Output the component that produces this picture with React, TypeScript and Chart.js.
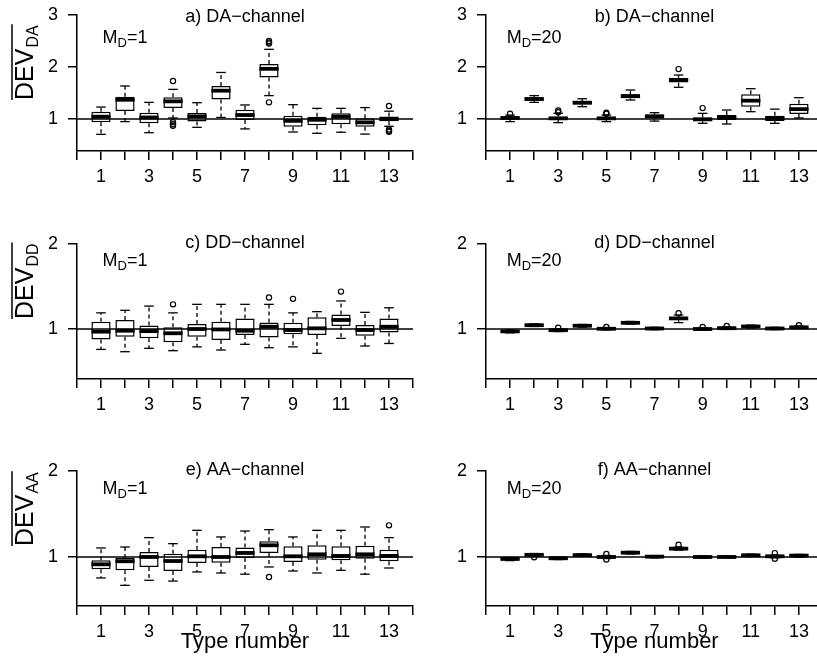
import React, { useEffect, useRef } from "react";
import { Chart, registerables } from "chart.js";

Chart.register(...registerables);

const FONT = "'Liberation Sans', Arial, Helvetica, sans-serif";

const typeNumbers = [1, 2, 3, 4, 5, 6, 7, 8, 9, 10, 11, 12, 13];
const xTickValues = [0, 1, 2, 3, 4, 5, 6, 7, 8, 9, 10, 11, 12, 13, 14];
const xTickLabels = [1, 3, 5, 7, 9, 11, 13];
const yTicksTop = [1, 2, 3];
const yTicksLower = [1, 2];

// a) DA-channel, M_D = 1
const daM1Low = [0.705, 0.95, 0.737, 1.02, 0.84, 1.03, 0.81, 1.45, 0.75, 0.725, 0.745, 0.71, 0.86];
const daM1Q1 = [0.936, 1.155, 0.917, 1.21, 0.95, 1.375, 0.98, 1.8, 0.853, 0.878, 0.9, 0.853, 0.955];
const daM1Med = [1.045, 1.37, 1.03, 1.34, 1.05, 1.545, 1.077, 1.965, 0.965, 0.985, 1.045, 0.936, 1.0];
const daM1Q3 = [1.14, 1.43, 1.12, 1.417, 1.115, 1.635, 1.18, 2.06, 1.064, 1.045, 1.11, 1.013, 1.05];
const daM1High = [1.23, 1.635, 1.32, 1.57, 1.314, 1.895, 1.27, 2.34, 1.276, 1.205, 1.205, 1.22, 1.15];
const daM1Out = [[4, 1.73], [4, 0.94], [4, 0.9], [4, 0.87], [8, 2.5], [8, 2.47], [8, 2.45], [8, 1.32], [13, 1.25], [13, 0.8], [13, 0.775], [13, 0.755]];

// b) DA-channel, M_D = 20
const daM20Low = [0.95, 1.32, 0.93, 1.237, 0.95, 1.365, 0.96, 1.61, 0.917, 0.904, 1.141, 0.917, 1.02];
const daM20Q1 = [0.99, 1.35, 0.985, 1.28, 0.99, 1.4, 1.01, 1.7, 0.955, 0.98, 1.237, 0.96, 1.096];
const daM20Med = [1.02, 1.385, 1.013, 1.314, 1.013, 1.44, 1.051, 1.75, 0.994, 1.032, 1.353, 1.013, 1.19];
const daM20Q3 = [1.045, 1.417, 1.045, 1.345, 1.04, 1.474, 1.085, 1.795, 1.03, 1.075, 1.474, 1.065, 1.295];
const daM20High = [1.075, 1.45, 1.11, 1.39, 1.077, 1.558, 1.122, 1.846, 1.109, 1.173, 1.583, 1.19, 1.41];
const daM20Out = [[1, 1.1], [3, 1.165], [3, 1.13], [5, 1.12], [5, 1.1], [8, 1.96], [9, 1.21]];

// c) DD-channel, M_D = 1
const ddM1Low = [0.76, 0.733, 0.773, 0.745, 0.79, 0.753, 0.82, 0.78, 0.79, 0.714, 0.89, 0.8, 0.83];
const ddM1Q1 = [0.878, 0.91, 0.89, 0.843, 0.91, 0.87, 0.93, 0.9, 0.937, 0.93, 1.035, 0.92, 0.96];
const ddM1Med = [0.969, 0.98, 0.975, 0.95, 1.0, 0.995, 0.98, 1.027, 0.988, 1.008, 1.106, 0.988, 1.027];
const ddM1Q3 = [1.086, 1.106, 1.04, 1.02, 1.059, 1.086, 1.125, 1.078, 1.075, 1.137, 1.17, 1.047, 1.125];
const ddM1High = [1.19, 1.22, 1.27, 1.19, 1.29, 1.29, 1.29, 1.29, 1.19, 1.204, 1.33, 1.196, 1.25];
const ddM1Out = [[4, 1.29], [8, 1.37], [9, 1.355], [11, 1.44]];

// d) DD-channel, M_D = 20
const ddM20Low = [0.955, 1.03, 0.97, 1.022, 0.99, 1.058, 0.992, 1.075, 0.985, 0.995, 1.012, 0.993, 1.005];
const ddM20Q1 = [0.962, 1.037, 0.978, 1.03, 0.996, 1.065, 0.999, 1.105, 0.993, 1.003, 1.022, 1.0, 1.013];
const ddM20Med = [0.972, 1.045, 0.986, 1.038, 1.003, 1.073, 1.006, 1.125, 1.0, 1.01, 1.03, 1.006, 1.02];
const ddM20Q3 = [0.982, 1.053, 0.994, 1.046, 1.01, 1.081, 1.013, 1.14, 1.007, 1.018, 1.038, 1.013, 1.028];
const ddM20High = [0.99, 1.06, 1.003, 1.054, 1.017, 1.089, 1.02, 1.165, 1.015, 1.026, 1.046, 1.02, 1.036];
const ddM20Out = [[3, 1.015], [5, 1.025], [8, 1.185], [9, 1.025], [10, 1.035], [13, 1.045]];

// e) AA-channel, M_D = 1
const aaM1Low = [0.756, 0.67, 0.729, 0.72, 0.826, 0.814, 0.8, 0.884, 0.837, 0.814, 0.845, 0.8, 0.872];
const aaM1Q1 = [0.857, 0.845, 0.884, 0.837, 0.93, 0.934, 0.988, 1.047, 0.942, 0.969, 0.961, 0.98, 0.95];
const aaM1Med = [0.915, 0.95, 1.0, 0.953, 1.008, 1.0, 1.047, 1.136, 1.008, 1.031, 1.012, 1.031, 1.012];
const aaM1Q3 = [0.961, 0.988, 1.058, 1.039, 1.085, 1.116, 1.109, 1.182, 1.124, 1.136, 1.124, 1.132, 1.085];
const aaM1High = [1.105, 1.116, 1.225, 1.155, 1.31, 1.233, 1.302, 1.318, 1.233, 1.31, 1.31, 1.349, 1.225];
const aaM1Out = [[8, 0.767], [13, 1.368]];

// f) AA-channel, M_D = 20
const aaM20Low = [0.958, 1.01, 0.97, 1.008, 0.982, 1.035, 0.99, 1.08, 0.988, 0.99, 1.005, 0.99, 1.0];
const aaM20Q1 = [0.967, 1.017, 0.977, 1.015, 0.992, 1.042, 0.997, 1.088, 0.994, 0.994, 1.012, 1.0, 1.008];
const aaM20Med = [0.977, 1.025, 0.985, 1.022, 1.0, 1.05, 1.004, 1.097, 1.0, 1.0, 1.02, 1.008, 1.016];
const aaM20Q3 = [0.987, 1.033, 0.992, 1.029, 1.008, 1.057, 1.01, 1.105, 1.006, 1.006, 1.027, 1.015, 1.022];
const aaM20High = [0.995, 1.04, 0.998, 1.035, 1.018, 1.065, 1.016, 1.115, 1.012, 1.012, 1.033, 1.022, 1.03];
const aaM20Out = [[2, 0.997], [5, 1.035], [5, 0.97], [8, 1.143], [12, 1.045], [12, 0.98]];

type PanelCfg = {
  key: string;
  title: string;
  md: string;
  ylabSub: string | null;
  low: number[];
  q1: number[];
  med: number[];
  q3: number[];
  high: number[];
  out: number[][];
  yMin: number;
  yMax: number;
  yTicks: number[];
  left: number;
  top: number;
  width: number;
  height: number;
  padTop: number;
  padRight: number;
  xAxisH: number;
  titleDy: number;
  mdY: number;
  ylabDy: number;
  xTitle: boolean;
};

const panels: PanelCfg[] = [
  { key: "a", title: "a) DA\u2212channel", md: "1", ylabSub: "DA", low: daM1Low, q1: daM1Q1, med: daM1Med, q3: daM1Q3, high: daM1High, out: daM1Out,
    yMin: 0.385, yMax: 3, yTicks: yTicksTop, left: 0, top: -15, width: 420, height: 210, padTop: 30, padRight: 7, xAxisH: 44, titleDy: 7, mdY: 2.47, ylabDy: 85, xTitle: false },
  { key: "b", title: "b) DA\u2212channel", md: "20", ylabSub: null, low: daM20Low, q1: daM20Q1, med: daM20Med, q3: daM20Q3, high: daM20High, out: daM20Out,
    yMin: 0.385, yMax: 3, yTicks: yTicksTop, left: 409, top: -15, width: 420, height: 210, padTop: 30, padRight: 6, xAxisH: 44, titleDy: 7, mdY: 2.47, ylabDy: 85, xTitle: false },
  { key: "c", title: "c) DD\u2212channel", md: "1", ylabSub: "DD", low: ddM1Low, q1: ddM1Q1, med: ddM1Med, q3: ddM1Q3, high: ddM1High, out: ddM1Out,
    yMin: 0.412, yMax: 2, yTicks: yTicksLower, left: 0, top: 196, width: 420, height: 224, padTop: 48, padRight: 7, xAxisH: 41, titleDy: 3.5, mdY: 1.74, ylabDy: 75, xTitle: false },
  { key: "d", title: "d) DD\u2212channel", md: "20", ylabSub: null, low: ddM20Low, q1: ddM20Q1, med: ddM20Med, q3: ddM20Q3, high: ddM20High, out: ddM20Out,
    yMin: 0.412, yMax: 2, yTicks: yTicksLower, left: 409, top: 196, width: 420, height: 224, padTop: 48, padRight: 6, xAxisH: 41, titleDy: 3.5, mdY: 1.74, ylabDy: 75, xTitle: false },
  { key: "e", title: "e) AA\u2212channel", md: "1", ylabSub: "AA", low: aaM1Low, q1: aaM1Q1, med: aaM1Med, q3: aaM1Q3, high: aaM1High, out: aaM1Out,
    yMin: 0.43, yMax: 2, yTicks: yTicksLower, left: 0, top: 425, width: 420, height: 240, padTop: 46, padRight: 7, xAxisH: 59, titleDy: 4, mdY: 1.73, ylabDy: 75, xTitle: true },
  { key: "f", title: "f) AA\u2212channel", md: "20", ylabSub: null, low: aaM20Low, q1: aaM20Q1, med: aaM20Med, q3: aaM20Q3, high: aaM20High, out: aaM20Out,
    yMin: 0.43, yMax: 2, yTicks: yTicksLower, left: 409, top: 425, width: 420, height: 240, padTop: 46, padRight: 6, xAxisH: 59, titleDy: 4, mdY: 1.73, ylabDy: 75, xTitle: true },
];

function line(ctx: CanvasRenderingContext2D, x1: number, y1: number, x2: number, y2: number) {
  ctx.beginPath();
  ctx.moveTo(x1, y1);
  ctx.lineTo(x2, y2);
  ctx.stroke();
}

function makePlugin(p: PanelCfg) {
  return {
    id: "boxExtras" + p.key,
    beforeDatasetsDraw(chart: any) {
      const ctx: CanvasRenderingContext2D = chart.ctx;
      const xs = chart.scales.x;
      const ys = chart.scales.y;
      ctx.save();
      ctx.strokeStyle = "#000";
      ctx.lineWidth = 1.3;
      typeNumbers.forEach((t, i) => {
        const x = xs.getPixelForValue(t);
        const cl = xs.getPixelForValue(t - 0.2);
        const cr = xs.getPixelForValue(t + 0.2);
        const yHi = ys.getPixelForValue(p.high[i]);
        const yQ3 = ys.getPixelForValue(p.q3[i]);
        const yQ1 = ys.getPixelForValue(p.q1[i]);
        const yLo = ys.getPixelForValue(p.low[i]);
        ctx.setLineDash([4, 3]);
        line(ctx, x, yQ3, x, yHi);
        line(ctx, x, yQ1, x, yLo);
        ctx.setLineDash([]);
        line(ctx, cl, yHi, cr, yHi);
        line(ctx, cl, yLo, cr, yLo);
      });
      ctx.restore();
    },
    afterDatasetsDraw(chart: any) {
      const ctx: CanvasRenderingContext2D = chart.ctx;
      const xs = chart.scales.x;
      const ys = chart.scales.y;
      const area = chart.chartArea;
      ctx.save();
      ctx.strokeStyle = "#000";
      ctx.lineWidth = 3.8;
      ctx.lineCap = "butt";
      typeNumbers.forEach((t, i) => {
        const y = ys.getPixelForValue(p.med[i]);
        line(ctx, xs.getPixelForValue(t - 0.4), y, xs.getPixelForValue(t + 0.4), y);
      });
      ctx.lineWidth = 1.5;
      const y1 = ys.getPixelForValue(1);
      line(ctx, area.left, y1, area.right, y1);
      ctx.restore();
    },
    afterDraw(chart: any) {
      const ctx: CanvasRenderingContext2D = chart.ctx;
      const xs = chart.scales.x;
      const ys = chart.scales.y;
      const area = chart.chartArea;
      ctx.save();
      ctx.fillStyle = "#000";
      ctx.strokeStyle = "#000";
      ctx.textBaseline = "alphabetic";
      // panel title
      ctx.font = `18px ${FONT}`;
      ctx.textAlign = "center";
      ctx.fillText(p.title, (area.left + area.right) / 2, area.top + p.titleDy);
      // M_D label
      ctx.textAlign = "left";
      const mx = xs.getPixelForValue(2);
      const my = ys.getPixelForValue(p.mdY);
      ctx.font = `18px ${FONT}`;
      const wM = ctx.measureText("M").width;
      const wEq = ctx.measureText("=" + p.md).width;
      ctx.font = `13px ${FONT}`;
      const wD = ctx.measureText("D").width;
      const sx = mx - (wM + wD + wEq) / 2;
      ctx.font = `18px ${FONT}`;
      ctx.fillText("M", sx, my);
      ctx.fillText("=" + p.md, sx + wM + wD, my);
      ctx.font = `13px ${FONT}`;
      ctx.fillText("D", sx + wM, my + 4);
      // y-axis label with overline and subscript
      if (p.ylabSub) {
        ctx.save();
        ctx.translate(33, area.top + p.ylabDy);
        ctx.rotate(-Math.PI / 2);
        ctx.font = `25px ${FONT}`;
        ctx.fillText("DEV", 0, 0);
        const w1 = ctx.measureText("DEV").width;
        ctx.font = `16px ${FONT}`;
        ctx.fillText(p.ylabSub, w1 + 1, 5);
        const w2 = ctx.measureText(p.ylabSub).width;
        ctx.lineWidth = 1.5;
        line(ctx, 0, -21, w1 + w2 + 2, -21);
        ctx.restore();
      }
      // x-axis title
      if (p.xTitle) {
        ctx.font = `22px ${FONT}`;
        ctx.textAlign = "center";
        ctx.fillText("Type number", (area.left + area.right) / 2, area.bottom + 42);
      }
      ctx.restore();
    },
  };
}

function Panel({ p }: { p: PanelCfg }) {
  const ref = useRef<HTMLCanvasElement>(null);
  useEffect(() => {
    if (!ref.current) return;
    const axisGrid = { offset: false, drawOnChartArea: false, drawTicks: true, tickLength: 9, color: "#000", lineWidth: 1.5 };
    const axisBorder = { display: true, color: "#000", width: 1.5 };
    const chart = new Chart(ref.current, {
      type: "bar",
      data: {
        datasets: [
          {
            type: "bar",
            data: typeNumbers.map((t, i) => ({ x: t, y: [p.q1[i], p.q3[i]] })) as any,
            backgroundColor: "#ffffff",
            borderColor: "#000000",
            borderWidth: 1.5,
            borderSkipped: false,
            barPercentage: 0.8,
            categoryPercentage: 1.0,
            order: 0,
          } as any,
          {
            type: "scatter",
            data: p.out.map(([x, y]) => ({ x, y })),
            pointStyle: "circle",
            pointRadius: 2.6,
            pointBorderWidth: 1.2,
            pointBackgroundColor: "rgba(0,0,0,0)",
            pointBorderColor: "#000",
            order: -1,
          } as any,
        ],
      },
      options: {
        responsive: false,
        animation: false,
        devicePixelRatio: 1,
        events: [],
        layout: { padding: { top: p.padTop, right: p.padRight, left: 0, bottom: 0 } },
        plugins: { legend: { display: false }, tooltip: { enabled: false }, title: { display: false } },
        scales: {
          x: {
            type: "linear",
            min: 0,
            max: 14,
            offset: false,
            afterBuildTicks: (s: any) => {
              s.ticks = xTickValues.map((v) => ({ value: v }));
            },
            afterFit: (s: any) => {
              s.height = p.xAxisH;
            },
            ticks: {
              autoSkip: false,
              maxRotation: 0,
              minRotation: 0,
              padding: 6,
              color: "#000",
              font: { family: FONT, size: 18 },
              callback: (v: any) => (xTickLabels.includes(Number(v)) ? String(v) : ""),
            },
            grid: axisGrid,
            border: axisBorder,
          },
          y: {
            type: "linear",
            min: p.yMin,
            max: p.yMax,
            afterBuildTicks: (s: any) => {
              s.ticks = p.yTicks.map((v) => ({ value: v }));
            },
            afterFit: (s: any) => {
              s.width = 77;
            },
            ticks: {
              padding: 10,
              color: "#000",
              font: { family: FONT, size: 18 },
              callback: (v: any) => String(v),
            },
            grid: axisGrid,
            border: axisBorder,
          },
        },
      } as any,
      plugins: [makePlugin(p)],
    });
    return () => chart.destroy();
  }, []);
  return (
    <canvas
      ref={ref}
      width={p.width}
      height={p.height}
      style={{ position: "absolute", left: p.left, top: p.top, width: p.width, height: p.height }}
    />
  );
}

export default function App() {
  return (
    <div style={{ position: "fixed", left: 0, top: 0, width: 817, height: 665, overflow: "hidden", background: "#fff" }}>
      {panels.map((p) => (
        <Panel key={p.key} p={p} />
      ))}
    </div>
  );
}
